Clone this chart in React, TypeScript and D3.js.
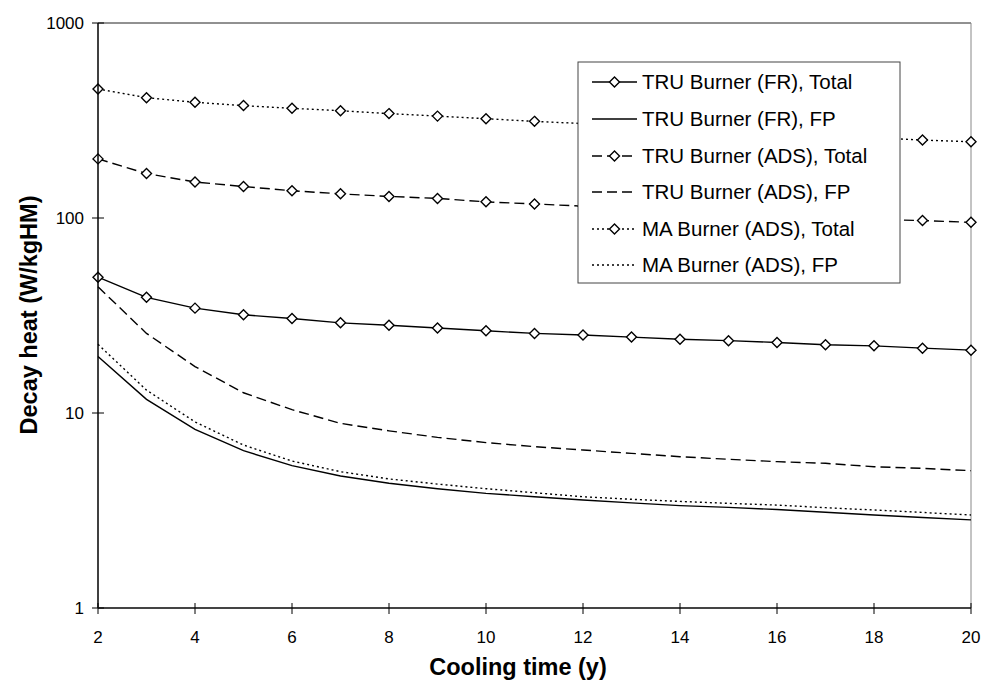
import React from "react";
import * as d3 from "d3";

const years = [2, 3, 4, 5, 6, 7, 8, 9, 10, 11, 12, 13, 14, 15, 16, 17, 18, 19, 20];
const truFrTotal = [49.7, 39.2, 34.5, 31.9, 30.5, 29.0, 28.2, 27.3, 26.4, 25.6, 25.1, 24.5, 23.9, 23.5, 23.0, 22.4, 22.1, 21.5, 21.0];
const truFrFp = [19.5, 11.75, 8.25, 6.41, 5.37, 4.75, 4.36, 4.09, 3.87, 3.72, 3.58, 3.46, 3.35, 3.28, 3.2, 3.1, 3.0, 2.91, 2.83];
const truAdsTotal = [201, 169, 153, 145, 138, 133, 129, 126, 121, 118, 115, 112, 109, 106, 103, 101, 98.5, 97, 95];
const truAdsFp = [44.4, 25.6, 17.3, 12.7, 10.4, 8.85, 8.1, 7.5, 7.05, 6.72, 6.46, 6.21, 5.97, 5.79, 5.63, 5.52, 5.3, 5.2, 5.06];
const maAdsTotal = [459, 414, 392, 377, 365, 355, 343, 333, 323, 313, 305, 296, 288, 280, 272, 265, 258, 251, 246];
const maAdsFp = [22.5, 13.1, 9.0, 6.85, 5.67, 5.0, 4.59, 4.32, 4.09, 3.9, 3.72, 3.61, 3.52, 3.44, 3.37, 3.27, 3.18, 3.09, 3.0];

const xTicks = [2, 4, 6, 8, 10, 12, 14, 16, 18, 20];
const yTicks = [1, 10, 100, 1000];

const seriesNames = [
  "TRU Burner (FR), Total",
  "TRU Burner (FR), FP",
  "TRU Burner (ADS), Total",
  "TRU Burner (ADS), FP",
  "MA Burner (ADS), Total",
  "MA Burner (ADS), FP",
];
const seriesValues = [truFrTotal, truFrFp, truAdsTotal, truAdsFp, maAdsTotal, maAdsFp];
const seriesDash = ["", "", "10,5", "10,5", "2,3", "2,3"];
const seriesMarker = [true, false, true, false, true, false];

const FONT = "'Liberation Sans', Arial, sans-serif";

function Diamond({ cx, cy }: { cx: number; cy: number }) {
  const r = 5;
  return (
    <path
      d={`M${cx},${cy - r}L${cx + r},${cy}L${cx},${cy + r}L${cx - r},${cy}Z`}
      fill="#fff"
      stroke="#000"
      strokeWidth={1.4}
    />
  );
}

export default function App() {
  const W = 981;
  const H = 681;
  const left = 98;
  const right = 971;
  const top = 23;
  const bottom = 608;

  const x = d3.scaleLinear().domain([2, 20]).range([left, right]);
  const y = d3.scaleLog().domain([1, 1000]).range([bottom, top]);

  const line = d3
    .line<number>()
    .x((_, i) => x(years[i]))
    .y((d) => y(d));

  const lg = { x0: 578, y0: 62, x1: 900, y1: 283 };
  const rowY = [82, 119, 156, 192, 229, 265];

  return (
    <svg
      width={W}
      height={H}
      style={{ position: "absolute", left: 0, top: 0, background: "#fff" }}
      fontFamily={FONT}
    >
      <rect x={0} y={0} width={W} height={H} fill="#fff" />
      {/* plot frame */}
      <line x1={left} x2={right} y1={top} y2={top} stroke="#222" strokeWidth={1} />
      <line x1={right} x2={right} y1={top} y2={bottom} stroke="#888" strokeWidth={1} />

      {/* series */}
      {seriesValues.map((vals, si) => (
        <g key={si}>
          <path
            d={line(vals) || ""}
            fill="none"
            stroke="#000"
            strokeWidth={1.4}
            strokeDasharray={seriesDash[si] || undefined}
          />
          {seriesMarker[si] &&
            vals.map((v, i) => <Diamond key={i} cx={x(years[i])} cy={y(v)} />)}
        </g>
      ))}

      {/* axes */}
      <line x1={left} x2={left} y1={top} y2={bottom} stroke="#000" strokeWidth={1.5} />
      <line x1={left} x2={right} y1={bottom} y2={bottom} stroke="#444" strokeWidth={2} />
      {yTicks.map((t) => (
        <g key={t}>
          <line x1={left - 6} x2={left + 6} y1={y(t)} y2={y(t)} stroke="#000" strokeWidth={1} />
          <text x={84} y={y(t)} dy="0.35em" textAnchor="end" fontSize={17}>
            {t}
          </text>
        </g>
      ))}
      {xTicks.map((t) => (
        <g key={t}>
          <line x1={x(t)} x2={x(t)} y1={bottom - 5} y2={bottom + 6} stroke="#000" strokeWidth={1} />
          <text x={x(t)} y={643} textAnchor="middle" fontSize={17}>
            {t}
          </text>
        </g>
      ))}

      <text x={518} y={675} textAnchor="middle" fontSize={23.5} fontWeight="bold">
        Cooling time (y)
      </text>
      <text
        transform={`translate(37,${315}) rotate(-90)`}
        textAnchor="middle"
        fontSize={23.5}
        fontWeight="bold"
      >
        Decay heat (W/kgHM)
      </text>

      {/* legend */}
      <rect
        x={lg.x0}
        y={lg.y0}
        width={lg.x1 - lg.x0}
        height={lg.y1 - lg.y0}
        fill="#fff"
        stroke="#444"
        strokeWidth={1}
      />
      {seriesNames.map((name, si) => (
        <g key={name}>
          <line
            x1={592}
            x2={637}
            y1={rowY[si]}
            y2={rowY[si]}
            stroke="#000"
            strokeWidth={1.4}
            strokeDasharray={seriesDash[si] || undefined}
          />
          {seriesMarker[si] && <Diamond cx={614.5} cy={rowY[si]} />}
          <text x={642} y={rowY[si]} dy="0.36em" fontSize={20.5}>
            {name}
          </text>
        </g>
      ))}
    </svg>
  );
}
